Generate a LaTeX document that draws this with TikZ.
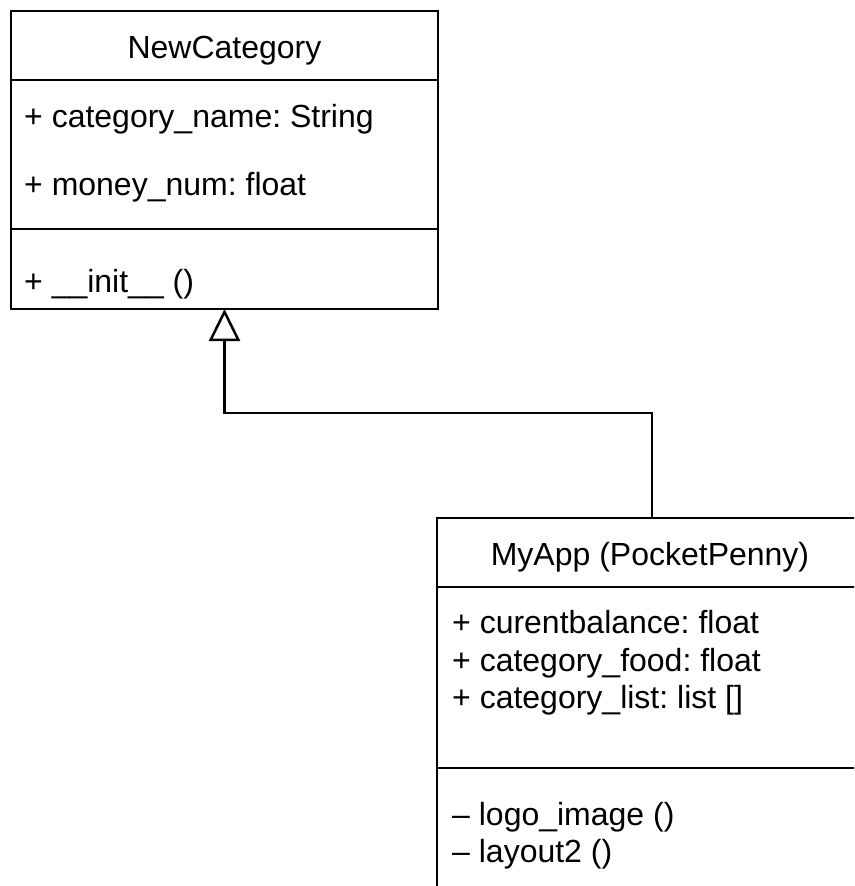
\documentclass[tikz,border=0pt]{standalone}
\usepackage{fontspec}
\setmainfont{Liberation Sans}
\usetikzlibrary{arrows.meta}
\frenchspacing
\begin{document}
\begin{tikzpicture}[x=1pt,y=-1pt,
  classbox/.style={draw, line width=2.5pt, inner sep=0pt, outer sep=0pt, anchor=north west},
  divider/.style={line width=2.5pt},
  txt/.style={font=\fontsize{32}{38}\selectfont, inner sep=0pt, anchor=base west},
  ttl/.style={font=\fontsize{32}{38}\selectfont, inner sep=0pt, anchor=base},
  inherit/.style={line width=2.5pt, -{Triangle[open, length=32pt, width=31pt, fill=white]}}]
\useasboundingbox (0,0) rectangle (854,886);
\clip (0,0) rectangle (854,886);
% NewCategory
\node[classbox, minimum width=427pt, minimum height=298pt] (newcat) at (11,11) {};
\draw[divider] ([yshift=-69pt]newcat.north west) -- ([yshift=-69pt]newcat.north east);
\draw[divider] ([yshift=-218pt]newcat.north west) -- ([yshift=-218pt]newcat.north east);
\node[ttl] (nctitle) at (224.5,58) {NewCategory};
\node[txt] (nca1) at (24,127) {+ category\_name: String};
\node[txt] (nca2) at (24,195) {+ money\_num: float};
\node[txt] (ncm1) at (24,292) {+ \_\_init\_\_ ()};
% MyApp
\node[classbox, minimum width=430pt, minimum height=450pt] (myapp) at (437,518) {};
\draw[divider] ([yshift=-69pt]myapp.north west) -- ([yshift=-69pt]myapp.north east);
\draw[divider] ([yshift=-250pt]myapp.north west) -- ([yshift=-250pt]myapp.north east);
\node[ttl] (matitle) at (650,565) {MyApp (PocketPenny)};
\node[txt] (maa1) at (452,633) {+ curentbalance: float};
\node[txt] (maa2) at (452,671) {+ category\_food: float};
\node[txt] (maa3) at (452,708) {+ category\_list: list []};
\node[txt] (mam1) at (452,825) {– logo\_image ()};
\node[txt] (mam2) at (452,862) {– layout2 ()};
% inheritance
\coordinate (bend) at (652,413);
\draw[inherit] (myapp.north) -- (myapp.north |- bend) -| (newcat.south);
\end{tikzpicture}
\end{document}
